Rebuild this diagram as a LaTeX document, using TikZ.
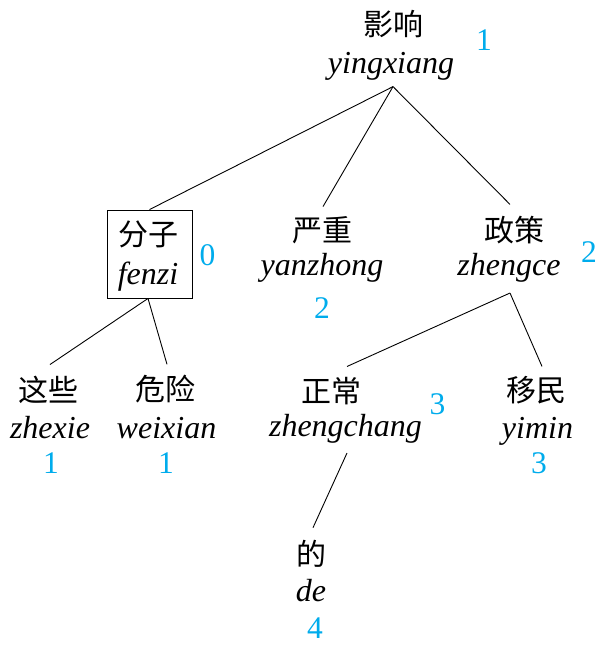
\documentclass[tikz,border=0pt]{standalone}
\usepackage{fontspec}
\setmainfont{Liberation Serif}
\newfontfamily\cjk{Noto Sans CJK SC}
\definecolor{numblue}{RGB}{0,172,236}
\tikzset{
  cn/.style={font=\cjk\fontsize{30}{30}\selectfont, inner sep=0pt, anchor=center},
  py/.style={font=\fontsize{32}{32}\selectfont\itshape, inner sep=0pt, anchor=base},
  num/.style={font=\fontsize{31.5}{31.5}\selectfont, text=numblue, inner sep=0pt, anchor=base},
  edge/.style={draw=black, line width=0.9pt},
  wordbox/.style={draw=black, line width=0.9pt, minimum width=85pt, minimum height=88pt, inner sep=0pt}
}
\begin{document}
\begin{tikzpicture}[x=1pt,y=-1pt]
\useasboundingbox (0,0) rectangle (610,648);
% root
\node[cn] (yx) at (393,24.5) {影响};
\node[py] (yxp) at (391,73) {yingxiang};
\node[num] (yxn) at (484,50) {1};
% level 1
\node[wordbox] (fzbox) at (149.5,254) {};
\node[cn] (fz) at (148,234.5) {分子};
\node[py] (fzp) at (148,284) {fenzi};
\node[num] (fzn) at (207.5,265) {0};
\node[cn] (yz) at (322,230) {严重};
\node[py] (yzp) at (322,275) {yanzhong};
\node[num] (yzn) at (322,318) {2};
\node[cn] (zc) at (514,230.5) {政策};
\node[py] (zcp) at (509,275) {zhengce};
\node[num] (zcn) at (589,262) {2};
% level 2
\node[cn] (zx) at (49,389.5) {这些};
\node[py] (zxp) at (50,438) {zhexie};
\node[num] (zxn) at (51,473) {1};
\node[cn] (wx) at (165,389.5) {危险};
\node[py] (wxp) at (166.5,438) {weixian};
\node[num] (wxn) at (166,473) {1};
\node[cn] (zch) at (331.5,391) {正常};
\node[py] (zchp) at (345.5,436) {zhengchang};
\node[num] (zchn) at (437.5,414) {3};
\node[cn] (ym) at (536,390) {移民};
\node[py] (ymp) at (537.5,438) {yimin};
\node[num] (ymn) at (539,473) {3};
% level 3
\node[cn] (de) at (311,553.5) {的};
\node[py] (dep) at (311,601) {de};
\node[num] (den) at (315,638) {4};
% connectors
\draw[edge] ([xshift=2pt,yshift=-6.5pt]yxp.south) -- (fzbox.north);
\draw[edge] ([xshift=2pt,yshift=-6.5pt]yxp.south) -- ([xshift=1pt,yshift=9.5pt]yz.north);
\draw[edge] ([xshift=2pt,yshift=-6.5pt]yxp.south) -- ([xshift=-4pt,yshift=12pt]zc.north);
\draw[edge] ([xshift=-1.5pt]fzbox.south) -- ([xshift=1pt,yshift=11pt]zx.north);
\draw[edge] ([xshift=-1.5pt]fzbox.south) -- ([xshift=2pt,yshift=11pt]wx.north);
\draw[edge] ([xshift=1pt,yshift=-11pt]zcp.south) -- ([xshift=15.5pt,yshift=10.5pt]zch.north);
\draw[edge] ([xshift=1pt,yshift=-11pt]zcp.south) -- ([xshift=6pt,yshift=9.5pt]ym.north);
\draw[edge] ([xshift=1.5pt,yshift=-10pt]zchp.south) -- ([xshift=2pt,yshift=12pt]de.north);
\end{tikzpicture}
\end{document}
